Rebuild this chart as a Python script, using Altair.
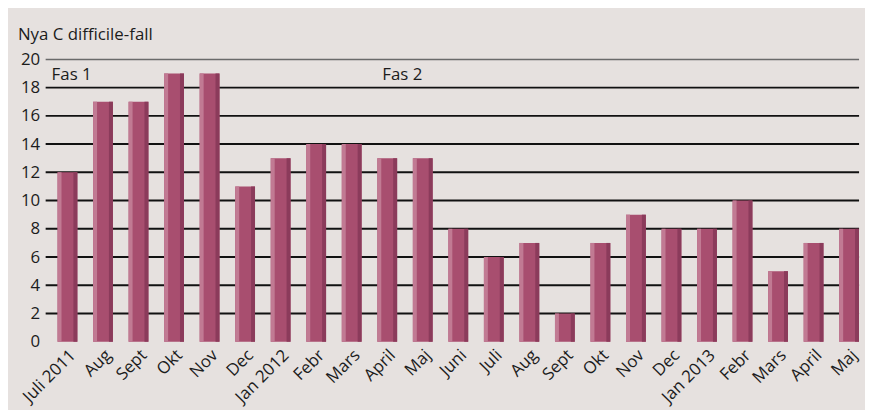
import altair as alt
import pandas as pd

months = ["Juli 2011", "Aug", "Sept", "Okt", "Nov", "Dec", "Jan 2012", "Febr",
          "Mars", "April", "Maj", "Juni", "Juli", "Aug", "Sept", "Okt", "Nov",
          "Dec", "Jan 2013", "Febr", "Mars", "April", "Maj"]
cases = [12, 17, 17, 19, 19, 11, 13, 14, 14, 13, 13, 8, 6, 7, 2, 7, 9, 8, 8, 10, 5, 7, 8]
y_ticks = [0, 2, 4, 6, 8, 10, 12, 14, 16, 18, 20]
grid_values = [2, 4, 6, 8, 10, 12, 14, 16, 18]
top_grid = [20]
phase_text = ["Fas 1", "Fas 2"]
phase_idx = [0, 9]
phase_y = [18.9, 18.9]
y_title = "Nya C difficile-fall"

FONT = "Open Sans"
TXT = "#1c1c1c"

df = pd.DataFrame({"idx": list(range(len(months))), "cases": cases})
label_arr = "[" + ",".join("'" + m + "'" for m in months) + "]"

xscale = alt.Scale(domain=list(range(len(months))), paddingInner=0.44,
                   paddingOuter=0.167, align=1)
yscale = alt.Scale(domain=[0, 20], nice=False)

x_axis = alt.Axis(labelExpr=label_arr + "[datum.value]", labelAngle=-45,
                  labelAlign="right", labelBaseline="top", labelPadding=5,
                  labelFontSize=17, labelFont=FONT, labelColor=TXT,
                  labelOverlap=False, labelBound=False,
                  ticks=False, domain=False, grid=False, title=None)
y_axis = alt.Axis(values=y_ticks, labelFontSize=17, labelFont=FONT, labelColor=TXT,
                  labelOverlap=False, labelPadding=6, ticks=False, domain=False,
                  grid=False, title=None)

grid_df = pd.DataFrame({"v": grid_values})
top_df = pd.DataFrame({"v": top_grid})

grid = alt.Chart(grid_df).mark_rule(color="#111111", strokeWidth=2).encode(
    y=alt.Y("v:Q", scale=yscale, axis=y_axis))
topline = alt.Chart(top_df).mark_rule(color="#6a6a6a", strokeWidth=1.5).encode(
    y=alt.Y("v:Q", scale=yscale, axis=y_axis))

base = alt.Chart(df).encode(
    x=alt.X("idx:O", scale=xscale, axis=x_axis),
    y=alt.Y("cases:Q", scale=yscale, axis=y_axis),
    y2=alt.datum(0),
)
main = base.mark_bar(width=20, color="#a84e6f")
light = base.mark_bar(width=4, xOffset=-8, color="#c17a93")
dark = base.mark_bar(width=4, xOffset=8, color="#8b3b5b")

ph_df = pd.DataFrame({"idx": phase_idx, "y": phase_y, "t": phase_text})
ph1 = alt.Chart(ph_df.iloc[[0]]).mark_text(
    align="left", baseline="middle", dx=-16, font=FONT, fontSize=17, color=TXT
).encode(x=alt.X("idx:O", scale=xscale, axis=x_axis),
         y=alt.Y("y:Q", scale=yscale, axis=y_axis), text="t:N")
ph2 = alt.Chart(ph_df.iloc[[1]]).mark_text(
    align="left", baseline="middle", dx=-5, font=FONT, fontSize=17, color=TXT
).encode(x=alt.X("idx:O", scale=xscale, axis=x_axis),
         y=alt.Y("y:Q", scale=yscale, axis=y_axis), text="t:N")

title_df = pd.DataFrame({"t": [y_title]})
ttl = alt.Chart(title_df).mark_text(
    align="left", baseline="alphabetic", font=FONT, fontSize=17, color=TXT
).encode(x=alt.value(-28), y=alt.value(-20), text="t:N")

chart = alt.layer(grid, topline, main, light, dark, ph1, ph2, ttl).properties(
    width=821, height=285,
    padding={"left": 38, "top": 50, "right": 6, "bottom": 67},
    autosize=alt.AutoSizeParams(type="none"),
    background="#e6e1df",
).configure_view(stroke=None)

chart.save("out.html", embed_options={"renderer": "svg", "actions": False})
